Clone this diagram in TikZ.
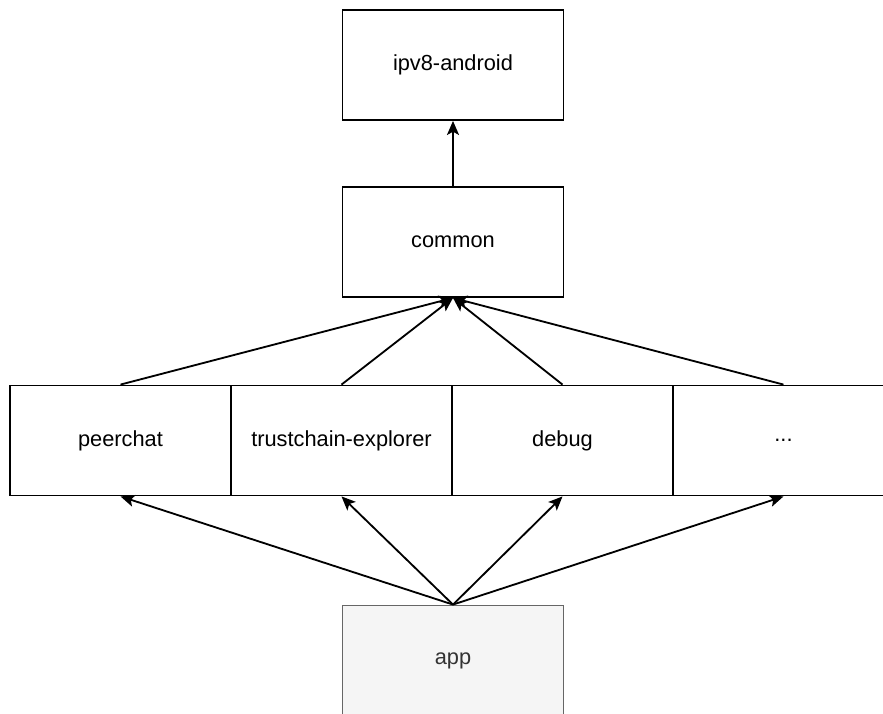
\documentclass[tikz,border=0pt]{standalone}
\usepackage{fontspec}
\setmainfont{Liberation Sans}
\usetikzlibrary{arrows.meta}
\begin{document}
\begin{tikzpicture}[x=0.025cm,y=-0.025cm,
    box/.style={draw,line width=1.3pt,minimum width=5.525cm,minimum height=2.75cm,inner sep=0pt,
      font=\fontsize{15.5}{18}\selectfont},
    appbox/.style={box,draw=black!60,fill=black!4,text=black!80}]
  \clip (0,0) rectangle (883,713);
  \draw
    (453,65) node[box] (ipv8){ipv8-android}
    (453,242) node[box] (common){common}
    (120.5,440.5) node[box] (peerchat){peerchat}
    (341.5,440.5) node[box] (explorer){trustchain-explorer}
    (562.5,440.5) node[box] (debug){debug}
    (783.5,440.5) node[box] (more){...}
    (453,660.5) node[appbox] (app){app};
  \begin{scope}[-{Stealth[length=0.35cm,width=0.3cm,inset=0.08cm]},line width=1.3pt]
    \draw (common) to (ipv8);
    \draw (peerchat.north) to (common.south);
    \draw (explorer.north) to (common.south);
    \draw (debug.north) to (common.south);
    \draw (more.north) to (common.south);
    \draw (app.north) to (peerchat.south);
    \draw (app.north) to (explorer.south);
    \draw (app.north) to (debug.south);
    \draw (app.north) to (more.south);
  \end{scope}
\end{tikzpicture}
\end{document}
